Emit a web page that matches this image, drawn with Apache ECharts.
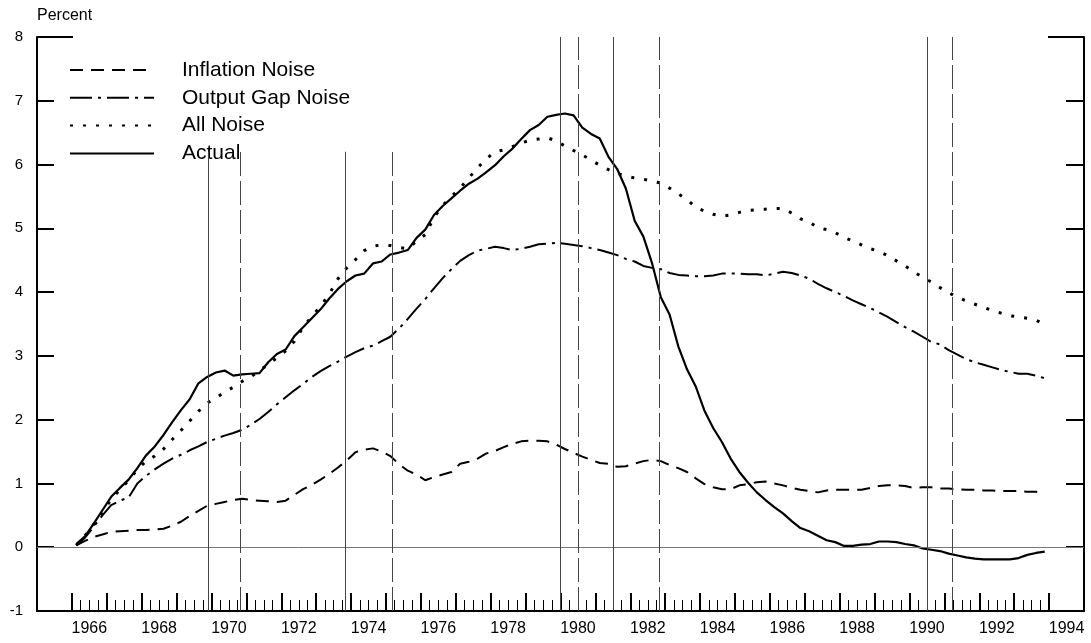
<!DOCTYPE html>
<html>
<head>
<meta charset="utf-8">
<script src="https://cdn.jsdelivr.net/npm/echarts@6/dist/echarts.min.js"></script>
<style>html,body{margin:0;padding:0;background:#fff}#c{width:1091px;height:643px}</style>
</head>
<body>
<div id="c"></div>
<script>
// Quarterly data, 1966Q1 .. 1993Q4 (plotted at mid-quarter)
const firstYear = 1966;
const inflationNoise = [
0.03,0.10,0.16,0.20,0.24,0.25,0.26,0.27,0.27,0.28,0.29,0.34,0.40,0.49,0.57,0.65,
0.68,0.71,0.74,0.76,0.74,0.73,0.72,0.71,0.73,0.82,0.91,0.98,1.06,1.15,1.25,1.36,
1.49,1.53,1.55,1.50,1.43,1.30,1.20,1.14,1.05,1.10,1.14,1.18,1.31,1.34,1.39,1.47,
1.51,1.57,1.62,1.66,1.67,1.67,1.66,1.61,1.54,1.48,1.42,1.37,1.32,1.31,1.26,1.27,
1.31,1.35,1.37,1.35,1.29,1.24,1.18,1.08,0.99,0.94,0.91,0.91,0.97,0.99,1.02,1.03,
1.00,0.97,0.93,0.90,0.88,0.86,0.89,0.90,0.90,0.90,0.90,0.93,0.96,0.97,0.97,0.96,
0.93,0.94,0.94,0.92,0.92,0.91,0.90,0.90,0.89,0.89,0.88,0.88,0.88,0.87,0.87,0.83
];
const outputGapNoise = [
0.03,0.15,0.32,0.50,0.66,0.73,0.78,1.00,1.12,1.22,1.31,1.39,1.45,1.52,1.58,1.65,
1.70,1.75,1.79,1.84,1.92,2.01,2.12,2.24,2.35,2.46,2.56,2.67,2.76,2.84,2.91,2.99,
3.06,3.12,3.16,3.23,3.30,3.43,3.58,3.74,3.89,4.06,4.22,4.36,4.49,4.58,4.65,4.68,
4.71,4.69,4.66,4.68,4.71,4.75,4.76,4.77,4.76,4.74,4.72,4.69,4.66,4.62,4.58,4.52,
4.48,4.41,4.38,4.36,4.30,4.27,4.26,4.25,4.25,4.26,4.29,4.29,4.29,4.28,4.28,4.26,
4.29,4.32,4.30,4.26,4.21,4.13,4.06,4.00,3.94,3.87,3.81,3.75,3.68,3.61,3.53,3.45,
3.38,3.30,3.22,3.18,3.09,3.02,2.95,2.90,2.86,2.82,2.78,2.75,2.72,2.72,2.69,2.65
];
const allNoise = [
0.03,0.18,0.36,0.55,0.75,0.90,1.05,1.22,1.35,1.43,1.54,1.69,1.83,1.98,2.13,2.26,
2.34,2.43,2.51,2.60,2.67,2.77,2.87,2.97,3.08,3.23,3.45,3.62,3.78,3.97,4.21,4.38,
4.51,4.65,4.72,4.74,4.73,4.70,4.68,4.80,4.90,5.17,5.36,5.50,5.63,5.79,5.95,6.09,
6.20,6.23,6.28,6.34,6.38,6.40,6.42,6.37,6.29,6.22,6.15,6.07,5.99,5.92,5.86,5.82,
5.79,5.77,5.74,5.71,5.63,5.54,5.45,5.33,5.27,5.22,5.19,5.21,5.25,5.28,5.29,5.30,
5.31,5.31,5.24,5.15,5.10,5.01,4.98,4.93,4.86,4.80,4.74,4.68,4.64,4.57,4.49,4.41,
4.32,4.23,4.16,4.07,3.99,3.92,3.86,3.81,3.76,3.71,3.67,3.63,3.61,3.59,3.56,3.49
];
const actual = [
0.05,0.17,0.37,0.58,0.79,0.93,1.06,1.24,1.44,1.58,1.76,1.96,2.15,2.32,2.57,2.67,
2.74,2.77,2.69,2.71,2.72,2.73,2.90,3.03,3.10,3.31,3.45,3.59,3.73,3.90,4.05,4.17,
4.26,4.29,4.45,4.48,4.59,4.62,4.66,4.85,4.98,5.21,5.35,5.47,5.59,5.70,5.78,5.88,
5.99,6.13,6.25,6.40,6.54,6.62,6.75,6.78,6.80,6.77,6.58,6.48,6.41,6.12,5.93,5.62,
5.12,4.87,4.45,3.92,3.65,3.15,2.79,2.52,2.14,1.87,1.65,1.39,1.18,1.01,0.86,0.74,
0.63,0.53,0.41,0.30,0.25,0.18,0.11,0.08,0.02,0.02,0.04,0.05,0.09,0.09,0.08,0.05,
0.03,-0.02,-0.04,-0.06,-0.10,-0.13,-0.16,-0.18,-0.19,-0.19,-0.19,-0.19,-0.17,-0.12,-0.09,-0.07
];
// Recession dates (peaks solid, troughs dashed) and the height each line reaches
const recessionPeaks   = [1969.92, 1973.83, 1980.00, 1981.50, 1990.50];
const recessionTroughs = [1970.83, 1975.17, 1980.50, 1982.83, 1991.22];
const recessionTops    = [6.2, 6.2, 8, 8, 8];
// Axis labels / ticks
const yearTicks = [];
for (let y = 1966; y <= 1994; y++) yearTicks.push(y);
const yearLabels = [1966,1968,1970,1972,1974,1976,1978,1980,1982,1984,1986,1988,1990,1992,1994];
const yTickLabels = [-1,0,1,2,3,4,5,6,7,8];

const FONT = '"Liberation Sans", Arial, Helvetica, sans-serif';
const quarterDate = i => firstYear + 0.125 + 0.25 * i;
const toPairs = arr => arr.map((v, i) => [quarterDate(i), v]);
const quarterTicks = [];
yearTicks.slice(0, -1).forEach(y => { [0.25, 0.5, 0.75].forEach(f => quarterTicks.push(y + f)); });

const chart = echarts.init(document.getElementById('c'), null, {renderer: 'canvas'});
const xBase = {type: 'value', min: 1965, max: 1995, position: 'bottom', offset: 0, splitLine: {show: false}};
const yBase = {type: 'value', min: yTickLabels[0], max: yTickLabels[yTickLabels.length - 1], interval: 1, splitLine: {show: false}, offset: 0};

chart.setOption({
  animation: false,
  backgroundColor: '#fff',
  grid: {left: 37, right: 7, top: 37, bottom: 32, containLabel: false},
  legend: {
    left: 69, top: 59.5, orient: 'vertical', padding: 0,
    itemWidth: 84, itemHeight: 21, itemGap: 6.8,
    data: ['Inflation Noise', 'Output Gap Noise', 'All Noise', 'Actual'],
    itemStyle: {color: 'rgba(0,0,0,0)', borderColor: 'rgba(0,0,0,0)', borderWidth: 0, opacity: 0},
    textStyle: {fontFamily: FONT, fontSize: 21, color: '#000', lineHeight: 21, padding: [0, 0, 0, 23]},
    inactiveColor: '#000'
  },
  xAxis: [
    Object.assign({}, xBase, {
      axisLine: {show: true, onZero: false, lineStyle: {color: '#000', width: 2}},
      axisTick: {show: true, inside: true, length: 18, lineStyle: {color: '#000', width: 2}, customValues: yearTicks},
      axisLabel: {show: true, customValues: yearLabels.map(y => y + 0.5), formatter: v => String(Math.floor(v)),
                  fontFamily: FONT, fontSize: 16, color: '#000', margin: 10}
    }),
    Object.assign({}, xBase, {
      axisLine: {show: false, onZero: false},
      axisTick: {show: true, inside: true, length: 11, lineStyle: {color: '#000', width: 1}, customValues: quarterTicks},
      axisLabel: {show: false}
    })
  ],
  yAxis: [
    Object.assign({}, yBase, {
      position: 'left',
      name: 'Percent', nameLocation: 'end', nameGap: 21,
      nameTextStyle: {fontFamily: FONT, fontSize: 16, color: '#000', align: 'left', verticalAlign: 'middle'},
      axisLine: {show: true, onZero: false, lineStyle: {color: '#000', width: 2}},
      axisTick: {show: true, inside: true, length: 17, lineStyle: {color: '#000', width: 2}},
      axisLabel: {show: true, fontFamily: FONT, fontSize: 15, color: '#000', margin: 14}
    }),
    Object.assign({}, yBase, {
      position: 'right',
      axisLine: {show: true, onZero: false, lineStyle: {color: '#000', width: 2}},
      axisTick: {show: true, inside: true, length: 18, lineStyle: {color: '#000', width: 2}},
      axisLabel: {show: false}
    }),
    Object.assign({}, yBase, {
      position: 'left',
      axisLine: {show: false, onZero: false},
      axisTick: {show: true, inside: true, length: 36, lineStyle: {color: '#000', width: 2}, customValues: [8]},
      axisLabel: {show: false}
    }),
    Object.assign({}, yBase, {
      position: 'right',
      axisLine: {show: false, onZero: false},
      axisTick: {show: true, inside: true, length: 36, lineStyle: {color: '#000', width: 2}, customValues: [8]},
      axisLabel: {show: false}
    })
  ],
  series: [
    {
      name: 'zero', type: 'line', data: [], silent: true,
      markLine: {silent: true, symbol: ['none', 'none'], label: {show: false},
        lineStyle: {color: '#777', width: 1, type: 'solid'},
        data: [{yAxis: 0}]}
    },
    {
      name: 'peaks', type: 'line', data: [], silent: true,
      markLine: {silent: true, symbol: ['none', 'none'], label: {show: false},
        lineStyle: {color: '#444', width: 1, type: 'solid'},
        data: recessionPeaks.map((p, i) => [{coord: [p, yTickLabels[0]]}, {coord: [p, recessionTops[i]]}])}
    },
    {
      name: 'troughs', type: 'line', data: [], silent: true,
      markLine: {silent: true, symbol: ['none', 'none'], label: {show: false},
        lineStyle: {color: '#444', width: 1, type: [24, 5]},
        data: recessionTroughs.map((p, i) => [{coord: [p, yTickLabels[0]]}, {coord: [p, recessionTops[i]]}])}
    },
    {name: 'Inflation Noise', type: 'line', data: toPairs(inflationNoise), showSymbol: false, symbol: 'none',
     lineStyle: {color: '#000', width: 2, type: [13, 8]}, itemStyle: {color: '#000'}},
    {name: 'Output Gap Noise', type: 'line', data: toPairs(outputGapNoise), showSymbol: false, symbol: 'none',
     lineStyle: {color: '#000', width: 2, type: [22, 6, 3, 6]}, itemStyle: {color: '#000'}},
    {name: 'All Noise', type: 'line', data: toPairs(allNoise), showSymbol: false, symbol: 'none',
     lineStyle: {color: '#000', width: 3, type: [3, 10]}, itemStyle: {color: '#000'}},
    {name: 'Actual', type: 'line', data: toPairs(actual), showSymbol: false, symbol: 'none',
     lineStyle: {color: '#000', width: 2.2, type: 'solid'}, itemStyle: {color: '#000'}}
  ]
});
</script>
</body>
</html>
